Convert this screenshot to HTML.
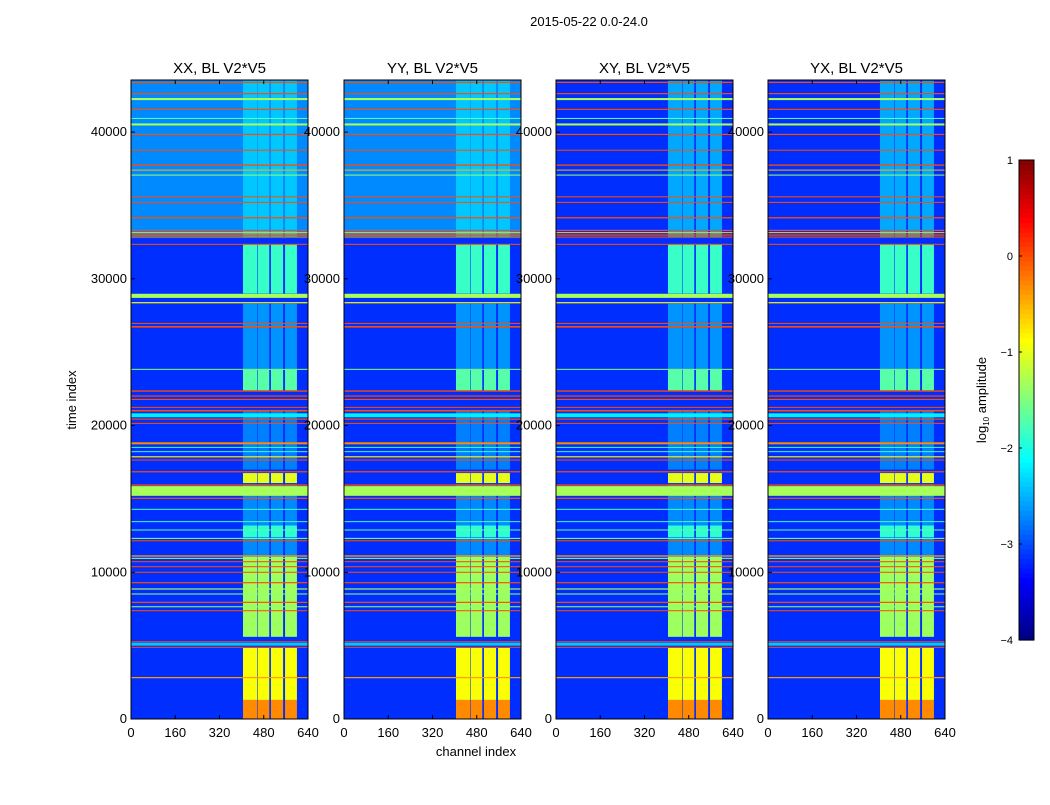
<!DOCTYPE html>
<html><head><meta charset="utf-8"><style>
body{margin:0;background:#fff;width:1050px;height:800px;overflow:hidden;font-family:"Liberation Sans",sans-serif}
svg text{font-family:"Liberation Sans",sans-serif;fill:#000}
</style></head><body>
<svg id="fig" width="1050" height="800" xmlns="http://www.w3.org/2000/svg">
<text x="589" y="26" font-size="13" text-anchor="middle">2015-05-22 0.0-24.0</text>
<text transform="translate(76,400) rotate(-90)" font-size="13" text-anchor="middle">time index</text>
<text x="476" y="756" font-size="13" text-anchor="middle">channel index</text>
<text transform="translate(986,400) rotate(-90)" font-size="13" text-anchor="middle">log<tspan font-size="8" dy="3">10</tspan><tspan dy="-3"> amplitude</tspan></text>
</svg>
<script>
// ---- data ----
const panelTitles = ["XX, BL V2*V5","YY, BL V2*V5","XY, BL V2*V5","YX, BL V2*V5"];
const upperBgLevel = [-2.7,-2.7,-3.15,-3.15];
const lowerBgLevel = [-3.15,-3.15,-3.15,-3.15];
const bgSplitTime = 32780;
const tMax = 43550;
const columnRanges = [[405,456],[458,500],[506,550],[557,600]];
// column activity: [tStart, tEnd, level]
const columnActivity = [[0,1300,-0.3],[1300,4840,-0.9],[5600,11060,-1.35],[11060,12400,-2.7],[12400,13200,-1.9],[13200,16000,-2.7],[16080,16760,-1.0],[17000,21000,-2.75],[22400,23800,-1.7],[23800,28300,-2.65],[29000,32350,-1.85],[32800,43500,-2.4]];
// rfi lines: [time, level, thicknessInTime]
const rfiLines = [[43390,0.1,80],[42620,0.1,80],[42250,-1.3,140],[41550,0.1,80],[40930,-1.7,70],[40520,-1.3,140],[39840,0.1,80],[38770,0.1,60],[37750,0.1,90],[37410,-0.5,70],[37070,-1.4,70],[35590,0.1,70],[35210,0.1,70],[34160,0.1,90],[33300,0.1,80],[33150,-0.6,70],[32980,0.1,80],[32840,0.1,70],[32350,0.1,70],[28840,-1.3,280],[28370,-0.9,80],[26960,0.1,70],[26730,0.1,110],[23830,-1.5,70],[22350,0.1,90],[22010,0.1,80],[21780,0.1,80],[21240,0.1,70],[21010,0.1,110],[20700,-2.2,270],[20440,0.1,80],[20150,0.1,70],[18790,-0.3,140],[18510,-1.9,70],[18220,-1.8,70],[17870,-0.8,80],[17650,0.1,70],[16850,0.1,80],[15940,0.1,90],[15540,-1.3,660],[15040,0.1,80],[14290,-1.8,70],[13450,-1.8,70],[12880,-1.7,70],[12310,-1.4,70],[12150,0.1,60],[11110,-0.4,90],[10950,-1.4,70],[10720,0.1,70],[10380,0.1,70],[10000,0.1,70],[9290,0.1,80],[8860,-1.3,80],[8520,-1.4,70],[7950,0.1,80],[7650,-1.4,70],[7380,0.1,70],[5270,0.1,60],[5100,-2.4,200],[4890,0.1,60],[2820,-0.4,80]];
const yTicks = [0,10000,20000,30000,40000];
const xTicks = [0,160,320,480,640];
const cbTicks = [1,0,-1,-2,-3,-4];
// ---- layout ----
const panelX = [131,344,556,768], panelW = 177, plotTop = 80, plotBottom = 719;
const NS = "http://www.w3.org/2000/svg";
const svg = document.getElementById('fig');
function jet(v){const x=(v+4)/5;const c=t=>Math.round(255*Math.max(0,Math.min(1,1.5-Math.abs(t))));return `rgb(${c(4*x-3)},${c(4*x-2)},${c(4*x-1)})`;}
function yS(t){return plotBottom-(t/tMax)*(plotBottom-plotTop);}
function mk(tag,attrs,parent){const e=document.createElementNS(NS,tag);for(const k in attrs)e.setAttribute(k,attrs[k]);(parent||svg).appendChild(e);return e;}
panelX.forEach((px,pi)=>{
  const xS=c=>px+c/640*panelW;
  const g=mk('g',{});
  
  
  let r=mk('rect',{x:px,y:yS(tMax),width:panelW,height:yS(bgSplitTime)-yS(tMax),fill:jet(upperBgLevel[pi])},g);
  
  
  r=mk('rect',{x:px,y:yS(bgSplitTime),width:panelW,height:yS(0)-yS(bgSplitTime),fill:jet(lowerBgLevel[pi])},g);
  
  
  columnActivity.forEach(a=>{columnRanges.forEach(cr=>{
    const c=mk('rect',{x:xS(cr[0]),y:yS(a[1]),width:xS(cr[1])-xS(cr[0]),height:yS(a[0])-yS(a[1]),fill:jet(a[2]+(pi>=2&&a[0]>32000?-0.15:0))},g);
    
    
  });});
  rfiLines.forEach(l=>{
    const h=Math.max(1,yS(l[0]-l[2]/2)-yS(l[0]+l[2]/2));
    const c=mk('rect',{x:px,y:yS(l[0]+l[2]/2),width:panelW,height:h,fill:jet(l[1]<-0.1?l[1]:0.0)},g);
    
    
  });
  const fr=mk('rect',{x:px,y:plotTop,width:panelW,height:plotBottom-plotTop,fill:'none',stroke:'#000','stroke-width':1},g);
  
  
  const tt=mk('text',{x:px+panelW/2,y:73,'font-size':15,'text-anchor':'middle'});
  tt.textContent=panelTitles[pi];
  
  
  yTicks.forEach(t=>{
    mk('line',{x1:px,x2:px+4,y1:yS(t),y2:yS(t),stroke:'#000'});
    const tx=mk('text',{x:px-4,y:yS(t)+4,'font-size':13,'text-anchor':'end'});
    tx.textContent=t;
    
    
  });
  xTicks.forEach(t=>{
    mk('line',{x1:xS(t),x2:xS(t),y1:plotBottom,y2:plotBottom-4,stroke:'#000'});
    mk('line',{x1:xS(t),x2:xS(t),y1:plotTop,y2:plotTop+4,stroke:'#000'});
    const tx=mk('text',{x:xS(t),y:737,'font-size':13,'text-anchor':'middle'});
    tx.textContent=t;
    
    
  });
});
const cbX=1019,cbW=15,cbTop=160,cbBot=640;
const cg=mk('g',{});


for(let i=0;i<100;i++){const v=-4+5*(i+0.5)/100;mk('rect',{x:cbX,y:cbBot-(i+1)*(cbBot-cbTop)/100,width:cbW,height:(cbBot-cbTop)/100+0.6,fill:jet(v)},cg);}
mk('rect',{x:cbX,y:cbTop,width:cbW,height:cbBot-cbTop,fill:'none',stroke:'#000'},cg);
cbTicks.forEach(v=>{const y=cbBot-(v+4)/5*(cbBot-cbTop);
  mk('line',{x1:cbX,x2:cbX+3,y1:y,y2:y,stroke:'#000'},cg);
  const tx=mk('text',{x:1013,y:y+4,'font-size':11,'text-anchor':'end'},cg);
  tx.textContent=v<0?'\u2212'+(-v):v;
  
  
});
</script>
</body></html>
